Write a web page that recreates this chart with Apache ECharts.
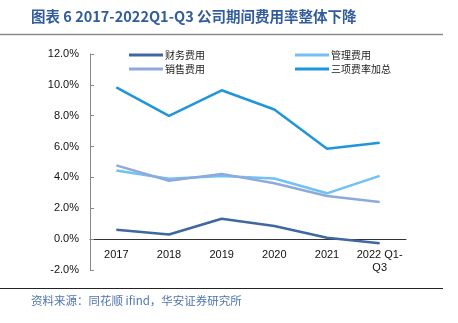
<!DOCTYPE html>
<html><head><meta charset="utf-8">
<script src="https://cdn.jsdelivr.net/npm/echarts@6/dist/echarts.min.js"></script>
<style>html,body{margin:0;padding:0;background:#fff}#c{width:458px;height:323px}</style>
</head><body><div id="c"></div>
<script>
const categories = ['2017','2018','2019','2020','2021','2022 Q1-\nQ3'];
const finance = [0.61, 0.30, 1.32, 0.85, 0.09, -0.26];
const admin = [4.45, 3.91, 4.10, 3.93, 2.97, 4.10];
const sales = [4.78, 3.78, 4.23, 3.62, 2.80, 2.41];
const total = [9.84, 7.99, 9.65, 8.40, 5.86, 6.25];
const seriesNames = ['财务费用','管理费用','销售费用','三项费率加总'];
const yTicks = {min: -2, max: 12, interval: 2};

const colors = ['#3f67a0', '#71c1f3', '#8fa9dd', '#1f95dc'];
const gridTop = 54, gridBottom = 53, H = 323;
const zeroOffset = -(H - gridTop - gridBottom) * (0 - yTicks.min) / (yTicks.max - yTicks.min);
const chart = echarts.init(document.getElementById('c'));
const mk = (name, data, color) => ({
  name, type: 'line', data, symbol: 'none', smooth: false,
  lineStyle: {width: 2.5, color}, itemStyle: {color}
});
chart.setOption({
  animation: false,
  textStyle: {fontFamily: 'Liberation Sans, Arial, sans-serif'},
  grid: {left: 90, right: 52, top: gridTop, bottom: gridBottom},
  legend: [
    {data: [seriesNames[0], seriesNames[2]], orient: 'vertical', left: 124, top: 45,
     itemWidth: 34, itemHeight: 3, itemGap: 4, icon: 'rect',
     textStyle: {fontSize: 10, color: '#222', fontFamily: 'Noto Sans CJK SC', padding: [0,0,0,-3]}},
    {data: [seriesNames[1], seriesNames[3]], orient: 'vertical', left: 290, top: 45,
     itemWidth: 34, itemHeight: 3, itemGap: 4, icon: 'rect',
     textStyle: {fontSize: 10, color: '#222', fontFamily: 'Noto Sans CJK SC', padding: [0,0,0,-3]}}
  ],
  xAxis: {
    type: 'category', data: categories, boundaryGap: true, position: 'bottom', offset: zeroOffset,
    axisLine: {onZero: false, lineStyle: {color: '#333', width: 1}},
    axisTick: {inside: true, length: 4, lineStyle: {color: '#333'}},
    axisLabel: {fontSize: 11, color: '#111', margin: 9, lineHeight: 13, interval: 0}
  },
  yAxis: {
    type: 'value', min: yTicks.min, max: yTicks.max, interval: yTicks.interval,
    axisLine: {show: true, lineStyle: {color: '#888', width: 1}},
    axisTick: {show: true, inside: true, length: 4, lineStyle: {color: '#888'}},
    splitLine: {show: false},
    axisLabel: {fontSize: 11, color: '#111', margin: 11, formatter: v => v.toFixed(1) + '%'}
  },
  series: [
    mk(seriesNames[0], finance, colors[0]),
    mk(seriesNames[1], admin, colors[1]),
    mk(seriesNames[2], sales, colors[2]),
    mk(seriesNames[3], total, colors[3])
  ],
  graphic: [
    {type: 'text', left: 31, top: 9, style: {text: '图表 6 2017-2022Q1-Q3 公司期间费用率整体下降',
      font: 'bold 14.5px "Noto Sans CJK SC", sans-serif', fill: '#325c9c'}},
    {type: 'line', shape: {x1: 0, y1: 34.5, x2: 443, y2: 34.5}, style: {stroke: '#8a8a8a', lineWidth: 1.5}},
    {type: 'line', shape: {x1: 0, y1: 288.5, x2: 443, y2: 288.5}, style: {stroke: '#222', lineWidth: 1}},
    {type: 'text', left: 31, top: 295, style: {text: '资料来源：同花顺 ifind，华安证券研究所',
      font: '11.5px "Noto Sans CJK SC", sans-serif', fill: '#4f75ad'}}
  ]
});
</script></body></html>
